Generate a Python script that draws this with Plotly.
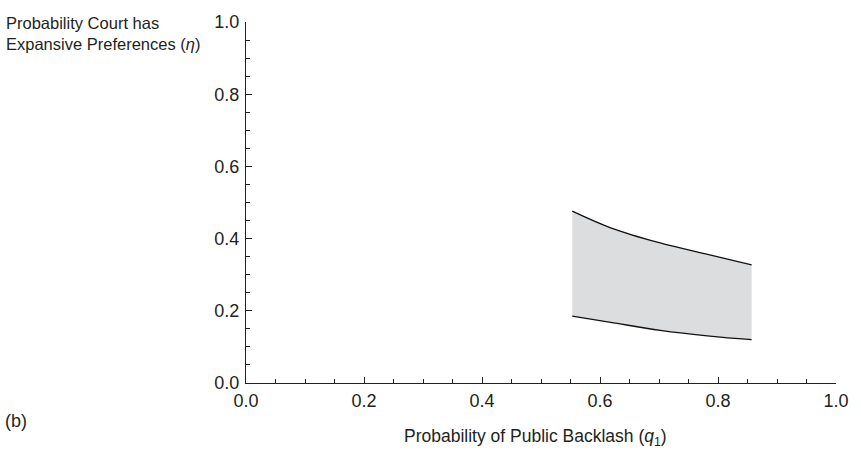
import plotly.graph_objects as go

# Data
q_values = [0.553, 0.618, 0.702, 0.786, 0.857]
eta_upper = [0.476, 0.430, 0.388, 0.355, 0.327]
eta_lower = [0.185, 0.168, 0.146, 0.130, 0.120]
tick_vals = [0.0, 0.2, 0.4, 0.6, 0.8, 1.0]
tick_text = ["0.0", "0.2", "0.4", "0.6", "0.8", "1.0"]

FONT = "Liberation Sans, Arial, sans-serif"
TXT = "#231f20"

fig = go.Figure()
poly_x = q_values + q_values[::-1] + [q_values[0]]
poly_y = eta_upper + eta_lower[::-1] + [eta_upper[0]]
fig.add_trace(go.Scatter(x=poly_x, y=poly_y, fill="toself", fillcolor="#dcdddf",
                         mode="none", hoverinfo="skip", showlegend=False))
fig.add_trace(go.Scatter(x=q_values, y=eta_upper, mode="lines", line=dict(color="#111", width=1.3, shape="spline"),
                         showlegend=False))
fig.add_trace(go.Scatter(x=q_values, y=eta_lower, mode="lines", line=dict(color="#111", width=1.3, shape="spline"),
                         showlegend=False))

axis_common = dict(range=[0, 1], tickvals=tick_vals, ticktext=tick_text, ticks="inside", ticklen=6,
                   tickwidth=1, tickcolor="#222", showline=True, linecolor="#222", linewidth=1.3,
                   showgrid=False, zeroline=False, tickfont=dict(family=FONT, size=18, color=TXT),
                   minor=dict(dtick=0.05, tick0=0, ticks="inside", ticklen=4, tickcolor="#222", tickwidth=1, showgrid=False))

fig.update_layout(
    width=861, height=454, paper_bgcolor="white", plot_bgcolor="white",
    margin=dict(l=246, r=18, t=13, b=71),
    xaxis=dict(**axis_common, ticklabelstandoff=1),
    yaxis=dict(**axis_common, ticklabelstandoff=2),
    font=dict(family=FONT, color=TXT),
    annotations=[
        dict(text="Probability Court has<br>Expansive Preferences (<i>η</i>)", xref="paper", yref="paper",
             x=-245/597, y=1 + 10/370, xanchor="left", yanchor="top", align="left", showarrow=False,
             font=dict(family=FONT, size=16.5, color=TXT)),
        dict(text="Probability of Public Backlash (<i>q</i><sub>1</sub>)", xref="paper", yref="paper",
             x=(539-246)/597, y=-(439-383)/370, xanchor="center", yanchor="middle", showarrow=False,
             font=dict(family=FONT, size=17.5, color=TXT)),
        dict(text="(b)", xref="paper", yref="paper",
             x=-246/597, y=-(422-383)/370, xanchor="left", yanchor="middle", showarrow=False,
             font=dict(family=FONT, size=18, color=TXT)),
    ],
)

fig.write_html("out.html")
